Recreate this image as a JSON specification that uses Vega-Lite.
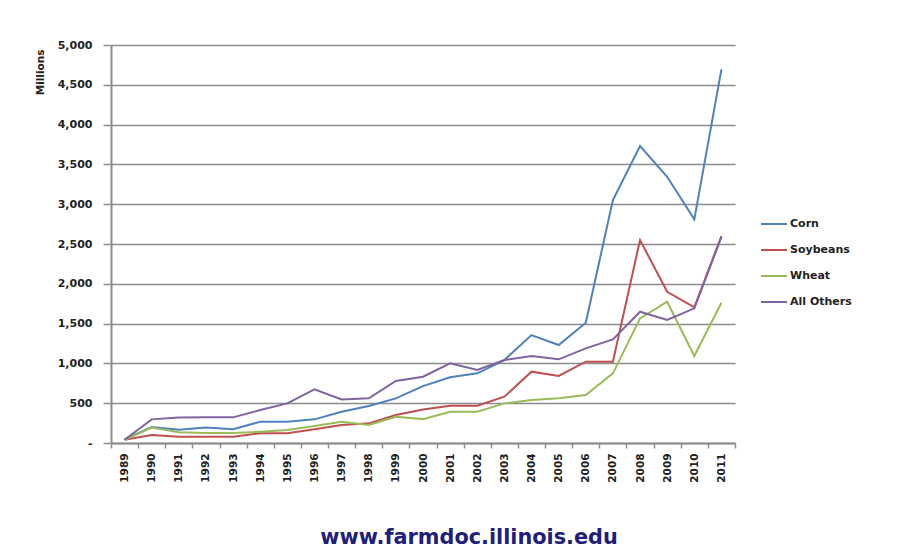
{
  "$schema": "https://vega.github.io/schema/vega-lite/v6.json",
  "autosize": {"type": "none"},
  "padding": {"left": 111, "top": 45, "right": 182, "bottom": 109},
  "width": 624,
  "height": 398,
  "background": "white",
  "title": {
    "text": "www.farmdoc.illinois.edu",
    "orient": "bottom",
    "anchor": "middle",
    "dx": 46,
    "offset": 46,
    "font": "DejaVu Sans",
    "fontSize": 20.8,
    "fontWeight": "bold",
    "color": "#20207c"
  },
  "data": {
    "values": [
      {"year": "1989", "series": "Corn", "value": 45},
      {"year": "1990", "series": "Corn", "value": 200},
      {"year": "1991", "series": "Corn", "value": 165},
      {"year": "1992", "series": "Corn", "value": 195},
      {"year": "1993", "series": "Corn", "value": 172},
      {"year": "1994", "series": "Corn", "value": 268},
      {"year": "1995", "series": "Corn", "value": 268},
      {"year": "1996", "series": "Corn", "value": 297},
      {"year": "1997", "series": "Corn", "value": 393},
      {"year": "1998", "series": "Corn", "value": 465},
      {"year": "1999", "series": "Corn", "value": 561},
      {"year": "2000", "series": "Corn", "value": 715},
      {"year": "2001", "series": "Corn", "value": 825},
      {"year": "2002", "series": "Corn", "value": 875},
      {"year": "2003", "series": "Corn", "value": 1042},
      {"year": "2004", "series": "Corn", "value": 1356},
      {"year": "2005", "series": "Corn", "value": 1231},
      {"year": "2006", "series": "Corn", "value": 1511},
      {"year": "2007", "series": "Corn", "value": 3052},
      {"year": "2008", "series": "Corn", "value": 3730},
      {"year": "2009", "series": "Corn", "value": 3345},
      {"year": "2010", "series": "Corn", "value": 2810},
      {"year": "2011", "series": "Corn", "value": 4694},
      {"year": "1989", "series": "Soybeans", "value": 40},
      {"year": "1990", "series": "Soybeans", "value": 100},
      {"year": "1991", "series": "Soybeans", "value": 80},
      {"year": "1992", "series": "Soybeans", "value": 80},
      {"year": "1993", "series": "Soybeans", "value": 80},
      {"year": "1994", "series": "Soybeans", "value": 122},
      {"year": "1995", "series": "Soybeans", "value": 122},
      {"year": "1996", "series": "Soybeans", "value": 172},
      {"year": "1997", "series": "Soybeans", "value": 226},
      {"year": "1998", "series": "Soybeans", "value": 247},
      {"year": "1999", "series": "Soybeans", "value": 352},
      {"year": "2000", "series": "Soybeans", "value": 420},
      {"year": "2001", "series": "Soybeans", "value": 469},
      {"year": "2002", "series": "Soybeans", "value": 469},
      {"year": "2003", "series": "Soybeans", "value": 582},
      {"year": "2004", "series": "Soybeans", "value": 896},
      {"year": "2005", "series": "Soybeans", "value": 842},
      {"year": "2006", "series": "Soybeans", "value": 1021},
      {"year": "2007", "series": "Soybeans", "value": 1021},
      {"year": "2008", "series": "Soybeans", "value": 2550},
      {"year": "2009", "series": "Soybeans", "value": 1900},
      {"year": "2010", "series": "Soybeans", "value": 1705},
      {"year": "2011", "series": "Soybeans", "value": 2600},
      {"year": "1989", "series": "Wheat", "value": 40},
      {"year": "1990", "series": "Wheat", "value": 195},
      {"year": "1991", "series": "Wheat", "value": 135},
      {"year": "1992", "series": "Wheat", "value": 126},
      {"year": "1993", "series": "Wheat", "value": 126},
      {"year": "1994", "series": "Wheat", "value": 142},
      {"year": "1995", "series": "Wheat", "value": 163},
      {"year": "1996", "series": "Wheat", "value": 213},
      {"year": "1997", "series": "Wheat", "value": 268},
      {"year": "1998", "series": "Wheat", "value": 226},
      {"year": "1999", "series": "Wheat", "value": 330},
      {"year": "2000", "series": "Wheat", "value": 300},
      {"year": "2001", "series": "Wheat", "value": 393},
      {"year": "2002", "series": "Wheat", "value": 393},
      {"year": "2003", "series": "Wheat", "value": 498},
      {"year": "2004", "series": "Wheat", "value": 540},
      {"year": "2005", "series": "Wheat", "value": 561},
      {"year": "2006", "series": "Wheat", "value": 603},
      {"year": "2007", "series": "Wheat", "value": 875},
      {"year": "2008", "series": "Wheat", "value": 1566},
      {"year": "2009", "series": "Wheat", "value": 1775},
      {"year": "2010", "series": "Wheat", "value": 1093},
      {"year": "2011", "series": "Wheat", "value": 1762},
      {"year": "1989", "series": "All Others", "value": 40},
      {"year": "1990", "series": "All Others", "value": 297},
      {"year": "1991", "series": "All Others", "value": 320},
      {"year": "1992", "series": "All Others", "value": 322},
      {"year": "1993", "series": "All Others", "value": 322},
      {"year": "1994", "series": "All Others", "value": 414},
      {"year": "1995", "series": "All Others", "value": 498},
      {"year": "1996", "series": "All Others", "value": 674},
      {"year": "1997", "series": "All Others", "value": 548},
      {"year": "1998", "series": "All Others", "value": 561},
      {"year": "1999", "series": "All Others", "value": 779},
      {"year": "2000", "series": "All Others", "value": 833},
      {"year": "2001", "series": "All Others", "value": 1001},
      {"year": "2002", "series": "All Others", "value": 917},
      {"year": "2003", "series": "All Others", "value": 1042},
      {"year": "2004", "series": "All Others", "value": 1093},
      {"year": "2005", "series": "All Others", "value": 1051},
      {"year": "2006", "series": "All Others", "value": 1189},
      {"year": "2007", "series": "All Others", "value": 1302},
      {"year": "2008", "series": "All Others", "value": 1649},
      {"year": "2009", "series": "All Others", "value": 1545},
      {"year": "2010", "series": "All Others", "value": 1692},
      {"year": "2011", "series": "All Others", "value": 2590}
    ]
  },
  "mark": {"type": "line", "strokeWidth": 2},
  "encoding": {
    "x": {
      "field": "year",
      "type": "ordinal",
      "bandPosition": 0.5,
      "scale": {"type": "band", "paddingInner": 0, "paddingOuter": 0},
      "axis": {
        "title": null,
        "labelAngle": 270,
        "labelAlign": "right",
        "labelBaseline": "middle",
        "labelFont": "DejaVu Sans",
        "labelFontSize": 10.5,
        "labelFontWeight": "bold",
        "labelColor": "#222222",
        "labelPadding": 5,
        "tickBand": "extent",
        "tickSize": 5,
        "tickColor": "#8c8c8c",
        "tickWidth": 1.5,
        "domainColor": "#8c8c8c",
        "domainWidth": 2,
        "grid": false
      }
    },
    "y": {
      "field": "value",
      "type": "quantitative",
      "scale": {"domain": [0, 5000], "nice": false},
      "axis": {
        "title": "Millions",
        "titleFont": "DejaVu Sans",
        "titleFontSize": 10.5,
        "titleFontWeight": "bold",
        "titleColor": "#222222",
        "titleAnchor": "end",
        "titleAngle": 270,
        "titleAlign": "right",
        "titleBaseline": "middle",
        "titleX": -71,
        "titleY": 4,
        "values": [0, 500, 1000, 1500, 2000, 2500, 3000, 3500, 4000, 4500, 5000],
        "labelExpr": "datum.value == 0 ? '-' : format(datum.value, ',')",
        "labelFont": "DejaVu Sans",
        "labelFontSize": 11,
        "labelFontWeight": "bold",
        "labelColor": "#222222",
        "labelPadding": 11,
        "tickSize": 8,
        "tickColor": "#8c8c8c",
        "tickWidth": 1.5,
        "domainColor": "#8c8c8c",
        "domainWidth": 2,
        "grid": true,
        "gridColor": "#8c8c8c",
        "gridWidth": 1.5
      }
    },
    "color": {
      "field": "series",
      "type": "nominal",
      "scale": {
        "domain": ["Corn", "Soybeans", "Wheat", "All Others"],
        "range": ["#4F81BD", "#C0504D", "#9BBB59", "#8064A2"]
      },
      "legend": {
        "title": null,
        "orient": "none",
        "legendX": 649,
        "legendY": 165,
        "symbolType": "stroke",
        "symbolSize": 676,
        "symbolStrokeWidth": 2,
        "rowPadding": 7,
        "labelOffset": 2,
        "labelFont": "DejaVu Sans",
        "labelFontSize": 11,
        "labelFontWeight": "bold",
        "labelColor": "#222222",
        "padding": 0
      }
    }
  },
  "config": {"view": {"stroke": null}}
}
